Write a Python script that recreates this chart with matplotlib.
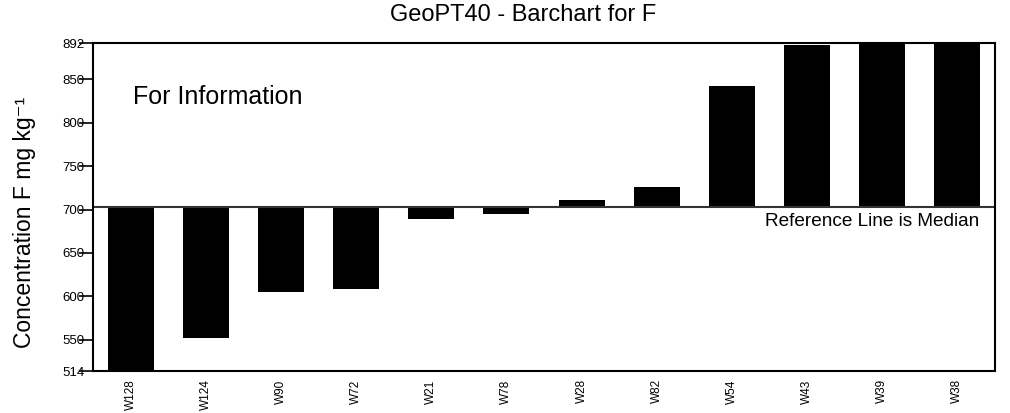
import matplotlib
matplotlib.use("Agg")
import matplotlib.pyplot as plt

plt.rcParams['font.family'] = ['Liberation Sans', 'DejaVu Sans']

labs = ["W128", "W124", "W90", "W72", "W21", "W78", "W28", "W82", "W54", "W43", "W39", "W38"]
vals = [505, 551.5, 604.5, 609, 689.5, 694.5, 710.5, 726.5, 842, 890, 905, 910]
ref_line = 703.5
y_lo, y_hi = 514, 892
yticks = [514, 550, 600, 650, 700, 750, 800, 850, 892]

W, H = 1010, 413
fig = plt.figure(figsize=(W / 100, H / 100), dpi=100)
ax = fig.add_axes([93 / W, 1 - 371 / H, 902 / W, 328 / H])

x = range(len(labs))
heights = [v - ref_line for v in vals]
ax.bar(x, heights, bottom=ref_line, width=0.61, color='black')
ax.axhline(ref_line, color='#333333', lw=1.5)

ax.set_xlim(-0.5, len(labs) - 0.5)
ax.set_ylim(y_lo, y_hi)
ax.set_yticks(yticks)
ax.set_yticklabels([str(t) for t in yticks], fontsize=9.5)
ax.tick_params(axis='y', length=10, width=1.2, pad=-4)
ax.set_xticks(list(x))
ax.set_xticklabels(labs, rotation=90, fontsize=8.5)
ax.tick_params(axis='x', length=0, pad=6)
for s in ax.spines.values():
    s.set_linewidth(1.5)

fig.text(523.5 / W, 1 - 15 / H, "GeoPT40 - Barchart for F", fontsize=17,
         ha='center', va='center')
fig.text(25 / W, 1 - 222 / H, "Concentration F mg kg⁻¹", fontsize=16.5,
         rotation=90, ha='center', va='center')
ax.text(0.044, 0.835, "For Information", transform=ax.transAxes, fontsize=18,
        va='center')
ax.text(0.983, 0.455, "Reference Line is Median", transform=ax.transAxes,
        fontsize=13.7, ha='right', va='center')

fig.savefig("out.png", dpi=100)
